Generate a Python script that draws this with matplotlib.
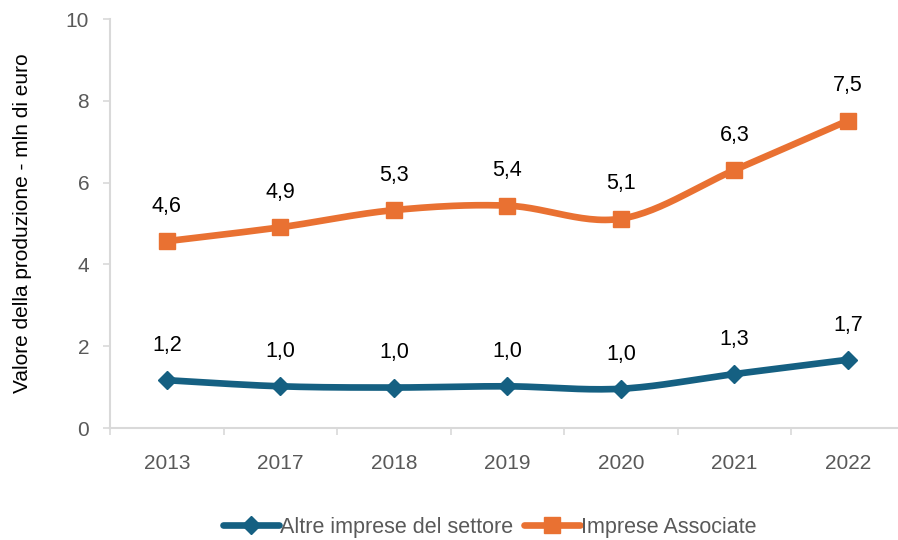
import numpy as np
import matplotlib
matplotlib.use('Agg')
import matplotlib.pyplot as plt

# data
anni = ['2013', '2017', '2018', '2019', '2020', '2021', '2022']
altre = [1.17, 1.02, 0.99, 1.02, 0.96, 1.32, 1.67]
associate = [4.57, 4.91, 5.33, 5.44, 5.12, 6.31, 7.52]
lab_altre = ['1,2', '1,0', '1,0', '1,0', '1,0', '1,3', '1,7']
lab_associate = ['4,6', '4,9', '5,3', '5,4', '5,1', '6,3', '7,5']

BLU = '#156082'
ARANCIO = '#E97132'
GRIGIO = '#595959'
ASSE = '#D9D9D9'

plt.rcParams['font.family'] = ['Liberation Sans', 'DejaVu Sans']


def smooth(xs, ys, n=30):
    # bezier smoothing, like excel's "smoothed line"
    xs = np.asarray(xs, float)
    ys = np.asarray(ys, float)
    px = np.concatenate([[xs[0]], xs, [xs[-1]]])
    py = np.concatenate([[ys[0]], ys, [ys[-1]]])
    outx, outy = [], []
    t = np.linspace(0, 1, n)
    for i in range(1, len(px) - 2):
        p0 = np.array([px[i], py[i]])
        p3 = np.array([px[i + 1], py[i + 1]])
        c1 = p0 + (np.array([px[i + 1], py[i + 1]]) - np.array([px[i - 1], py[i - 1]])) / 6
        c2 = p3 - (np.array([px[i + 2], py[i + 2]]) - np.array([px[i], py[i]])) / 6
        b = ((1 - t) ** 3)[:, None] * p0 + (3 * (1 - t) ** 2 * t)[:, None] * c1 \
            + (3 * (1 - t) * t ** 2)[:, None] * c2 + (t ** 3)[:, None] * p3
        outx.extend(b[:, 0])
        outy.extend(b[:, 1])
    return outx, outy


fig = plt.figure(figsize=(8.98, 5.4), dpi=100)
ax = fig.add_axes([0.1225, 0.2074, 0.885, 0.757])

x = np.arange(len(anni))

for vals, labs, col, mk, ms, nome in [
        (altre, lab_altre, BLU, 'D', 9.5, 'Altre imprese del settore'),
        (associate, lab_associate, ARANCIO, 's', 11.5, 'Imprese Associate')]:
    sx, sy = smooth(x, vals)
    ax.plot(sx, sy, color=col, lw=4.8, solid_capstyle='round', zorder=2)
    ax.plot(x, vals, ls='none', marker=mk, ms=ms, color=col, zorder=3)
    # handle for legend
    ax.plot([], [], color=col, lw=4.8, marker=mk, ms=ms, label=nome,
            solid_capstyle='round')
    for xi, v, t in zip(x, vals, labs):
        ax.annotate(t, (xi, v), xytext=(0, 25), textcoords='offset points',
                    ha='center', va='center', fontsize=15.5, color='black')

ax.set_xlim(-0.5, len(anni) - 0.5)
ax.set_ylim(0, 10)
ax.set_yticks([0, 2, 4, 6, 8, 10])
ax.set_xticks(x)
ax.set_xticklabels(anni)
ax.set_xticks(np.arange(-0.5, len(anni), 1), minor=True)
ax.tick_params(axis='x', which='major', length=0, pad=19, labelsize=15, labelcolor=GRIGIO)
ax.tick_params(axis='x', which='minor', length=5, color=ASSE, width=1.2)
ax.tick_params(axis='y', length=5, color=ASSE, width=1.2, pad=10, labelsize=15, labelcolor=GRIGIO)

for s in ['top', 'right']:
    ax.spines[s].set_visible(False)
for s in ['left', 'bottom']:
    ax.spines[s].set_color(ASSE)
    ax.spines[s].set_linewidth(1.5)

fig.text(0.025, 0.2074 + 0.757 / 2, 'Valore della produzione - mln di euro', rotation=90,
         ha='center', va='center', fontsize=15, color='black')

leg = fig.legend(loc='center', bbox_to_anchor=(0.545, 0.024), ncol=2, frameon=False,
                 handlelength=2.6, handletextpad=0.05, columnspacing=0.5,
                 labelcolor=GRIGIO, prop={'size': 15.5})

fig.savefig('out.png', dpi=100)
